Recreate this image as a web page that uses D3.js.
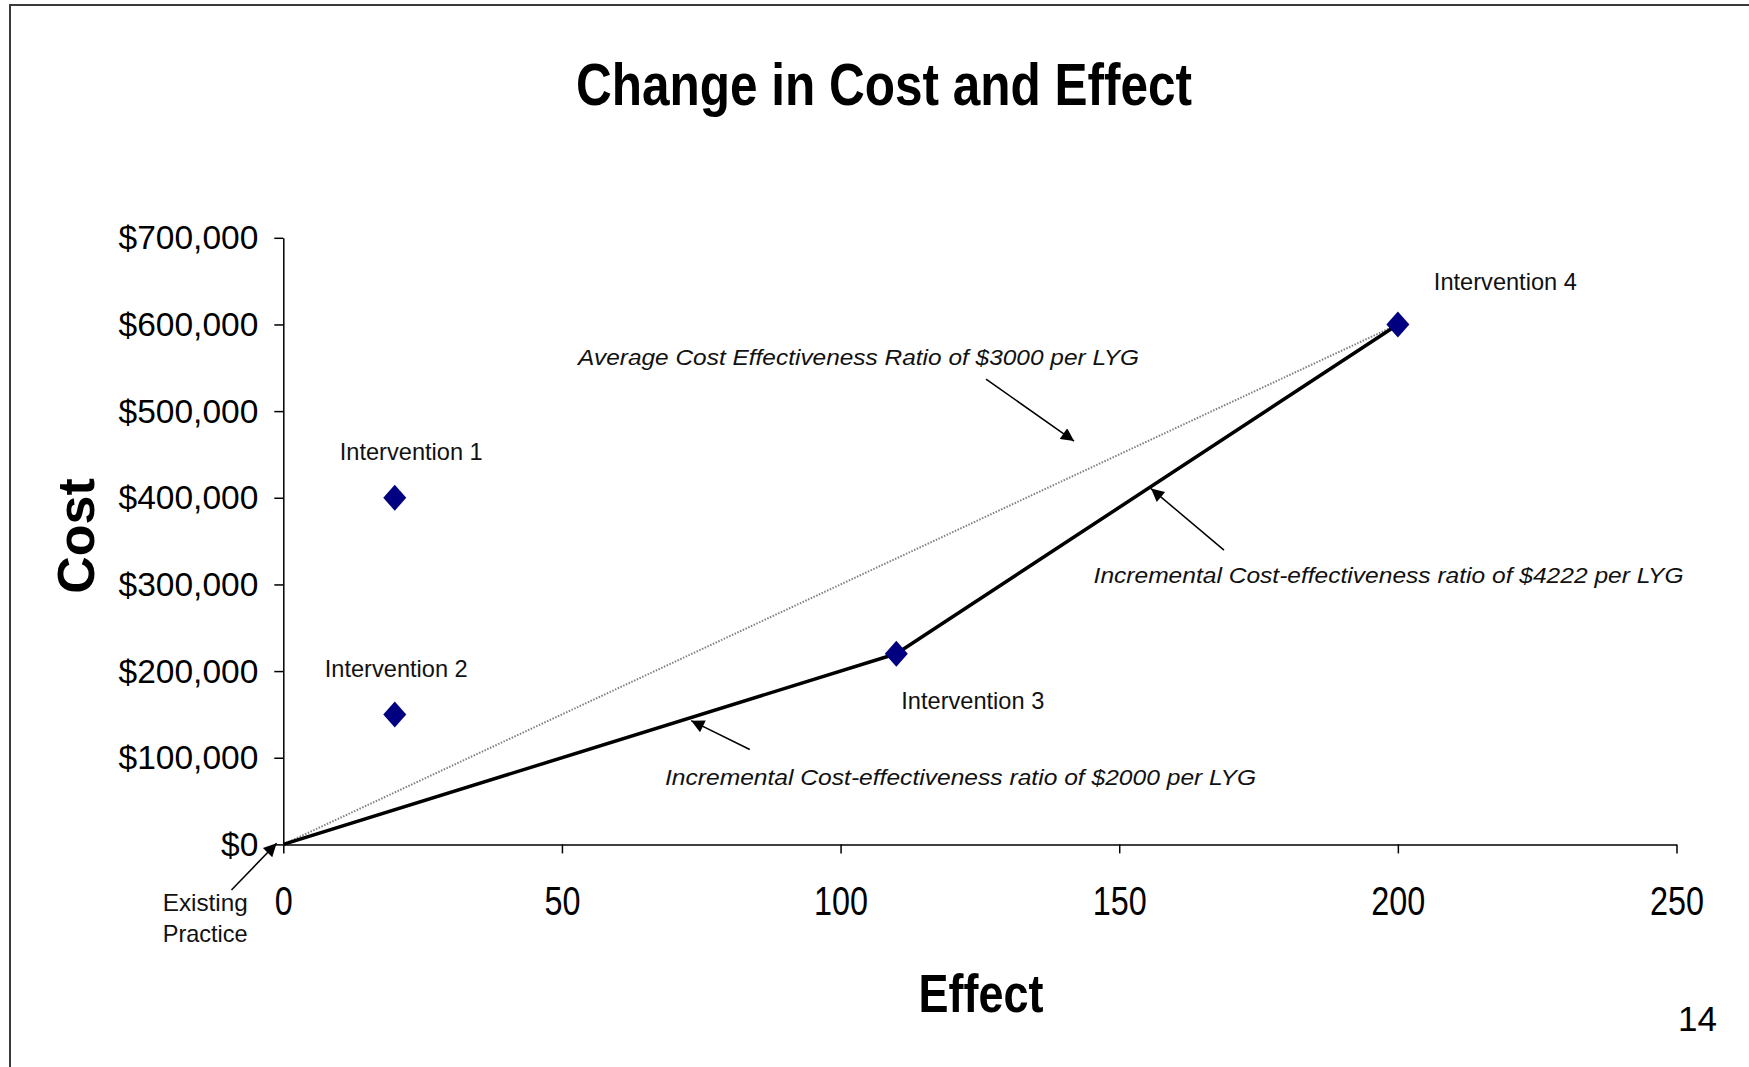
<!DOCTYPE html>
<html>
<head>
<meta charset="utf-8">
<script src="https://cdn.jsdelivr.net/npm/d3@7"></script>
<style>
  html, body { margin: 0; padding: 0; background: #fff; }
  svg { display: block; }
</style>
</head>
<body>
<svg id="chart" width="1749" height="1067"></svg>
<script>
// --- datos ---
const nombres = ["Existing Practice", "Intervention 1", "Intervention 2", "Intervention 3", "Intervention 4"];
const efecto = [0, 20, 20, 110, 200];
const costo = [0, 400000, 150000, 220000, 600000];
const frontera = [0, 3, 4];   // indices de la linea incremental
const promedio = [0, 4];      // linea del ratio medio
const ticksX = [0, 50, 100, 150, 200, 250];
const ticksY = [0, 100000, 200000, 300000, 400000, 500000, 600000, 700000];

// textos de anotacion (posicion en unidades de los datos)
const notas = [
  { texto: "Average Cost Effectiveness Ratio of $3000 per LYG", e: 52.9, c: 553000, largo: 561,
    flecha: [[126.1, 536900], [141.9, 465400]] },
  { texto: "Incremental Cost-effectiveness ratio of $4222 per LYG", e: 145.4, c: 301800, largo: 590,
    flecha: [[168.8, 339600], [155.7, 410600]] },
  { texto: "Incremental Cost-effectiveness ratio of $2000 per LYG", e: 68.5, c: 68500, largo: 591,
    flecha: [[83.7, 109500], [73.2, 142800]] }
];
const flechaExistente = [[-9.3, -52600], [-1.2, 1300]];

// desplazamiento de cada etiqueta respecto a su punto (px)
const offsets = [
  null,
  { dx: -55, dy: -38 },
  { dx: -70, dy: -37 },
  { dx: 5, dy: 55 },
  { dx: 36, dy: -34 }
];

const svg = d3.select("#chart");
const fuente = "'Liberation Sans', Arial, sans-serif";

// marco (solo arriba e izquierda visibles)
svg.append("path")
  .attr("d", "M10,1067 L10,5 L1749,5")
  .attr("fill", "none")
  .attr("stroke", "#3a3a3a")
  .attr("stroke-width", 2);

const x = d3.scaleLinear().domain([0, 250]).range([283.3, 1676.5]);
const y = d3.scaleLinear().domain([0, 700000]).range([844.4, 237.8]);

// punta de flecha
svg.append("defs").append("marker")
  .attr("id", "punta")
  .attr("viewBox", "0 0 10 10")
  .attr("refX", 10).attr("refY", 5)
  .attr("markerWidth", 18).attr("markerHeight", 13)
  .attr("markerUnits", "userSpaceOnUse")
  .attr("orient", "auto")
  .append("path")
  .attr("d", "M0,0 L10,5 L0,10 Z")
  .attr("fill", "#000");

// titulo
svg.append("text")
  .attr("x", 884).attr("y", 105)
  .attr("text-anchor", "middle")
  .attr("font-family", fuente)
  .attr("font-weight", "bold")
  .attr("font-size", 60)
  .attr("textLength", 616)
  .attr("lengthAdjust", "spacingAndGlyphs")
  .text("Change in Cost and Effect");

// eje Y
const ejeY = svg.append("g")
  .attr("transform", `translate(${x(0)},0)`)
  .call(d3.axisLeft(y).tickValues(ticksY).tickSize(9).tickSizeOuter(0)
    .tickFormat(d3.format("$,.0f")));
ejeY.selectAll("path, line").attr("stroke", "#000").attr("stroke-width", 1.5);
ejeY.selectAll("text")
  .attr("x", -25)
  .attr("dy", "0.33em")
  .attr("font-family", fuente)
  .attr("font-size", 33.5)
  .attr("fill", "#000");

// eje X
const ejeX = svg.append("g")
  .attr("transform", `translate(0,${y(0)})`)
  .call(d3.axisBottom(x).tickValues(ticksX).tickSize(9).tickSizeOuter(0));
ejeX.selectAll("path, line").attr("stroke", "#000").attr("stroke-width", 1.5);
ejeX.selectAll("text")
  .attr("y", 71)
  .attr("dy", 0)
  .attr("font-family", fuente)
  .attr("font-size", 40)
  .attr("fill", "#000")
  .attr("textLength", d => String(d).length * 18)
  .attr("lengthAdjust", "spacingAndGlyphs");

// titulos de ejes
svg.append("text")
  .attr("x", 981).attr("y", 1012)
  .attr("text-anchor", "middle")
  .attr("font-family", fuente)
  .attr("font-weight", "bold")
  .attr("font-size", 54)
  .attr("textLength", 125)
  .attr("lengthAdjust", "spacingAndGlyphs")
  .text("Effect");

svg.append("text")
  .attr("transform", "translate(94,536) rotate(-90)")
  .attr("text-anchor", "middle")
  .attr("font-family", fuente)
  .attr("font-weight", "bold")
  .attr("font-size", 52)
  .text("Cost");

// lineas
const linea = d3.line().x(i => x(efecto[i])).y(i => y(costo[i]));

svg.append("path")
  .attr("d", linea(promedio))
  .attr("fill", "none")
  .attr("stroke", "#808080")
  .attr("stroke-width", 2)
  .attr("stroke-dasharray", "1.5,1.5");

svg.append("path")
  .attr("d", linea(frontera))
  .attr("fill", "none")
  .attr("stroke", "#000")
  .attr("stroke-width", 3.5)
  .attr("stroke-linejoin", "round");

// rombos
const rombo = {
  draw(ctx, size) {
    const w = 11.5, h = 13;
    ctx.moveTo(0, -h); ctx.lineTo(w, 0); ctx.lineTo(0, h); ctx.lineTo(-w, 0); ctx.closePath();
  }
};
const indicesPuntos = d3.range(1, nombres.length);
svg.selectAll("path.punto")
  .data(indicesPuntos)
  .enter().append("path")
  .attr("class", "punto")
  .attr("transform", i => `translate(${x(efecto[i])},${y(costo[i])})`)
  .attr("d", d3.symbol().type(rombo))
  .attr("fill", "#000080");

// etiquetas de los puntos
svg.selectAll("text.etiqueta")
  .data(indicesPuntos)
  .enter().append("text")
  .attr("class", "etiqueta")
  .attr("x", i => x(efecto[i]) + offsets[i].dx)
  .attr("y", i => y(costo[i]) + offsets[i].dy)
  .attr("font-family", fuente)
  .attr("font-size", 24)
  .attr("fill", "#111")
  .attr("textLength", 143)
  .attr("lengthAdjust", "spacingAndGlyphs")
  .text(i => nombres[i]);

// "Existing Practice" en dos lineas
const partes = nombres[0].split(" ");
svg.selectAll("text.existente")
  .data(partes)
  .enter().append("text")
  .attr("class", "existente")
  .attr("x", x(efecto[0]) - 120.6)
  .attr("y", (d, k) => y(costo[0]) + 66.6 + k * 30.8)
  .attr("font-family", fuente)
  .attr("font-size", 24)
  .attr("fill", "#111")
  .attr("textLength", 85)
  .attr("lengthAdjust", "spacingAndGlyphs")
  .text(d => d);

// flechas
const flechas = notas.map(n => n.flecha).concat([flechaExistente]);
svg.selectAll("line.flecha")
  .data(flechas)
  .enter().append("line")
  .attr("class", "flecha")
  .attr("x1", f => x(f[0][0])).attr("y1", f => y(f[0][1]))
  .attr("x2", f => x(f[1][0])).attr("y2", f => y(f[1][1]))
  .attr("stroke", "#000")
  .attr("stroke-width", 1.5)
  .attr("marker-end", "url(#punta)");

// textos de ratios
svg.selectAll("text.nota")
  .data(notas)
  .enter().append("text")
  .attr("class", "nota")
  .attr("x", n => x(n.e))
  .attr("y", n => y(n.c))
  .attr("font-family", fuente)
  .attr("font-style", "italic")
  .attr("font-size", 22)
  .attr("fill", "#111")
  .attr("textLength", n => n.largo)
  .attr("lengthAdjust", "spacingAndGlyphs")
  .text(n => n.texto);

// numero de pagina
svg.append("text")
  .attr("x", 1717).attr("y", 1031)
  .attr("text-anchor", "end")
  .attr("font-family", fuente)
  .attr("font-size", 35)
  .attr("fill", "#000")
  .text("14");
</script>
</body>
</html>
